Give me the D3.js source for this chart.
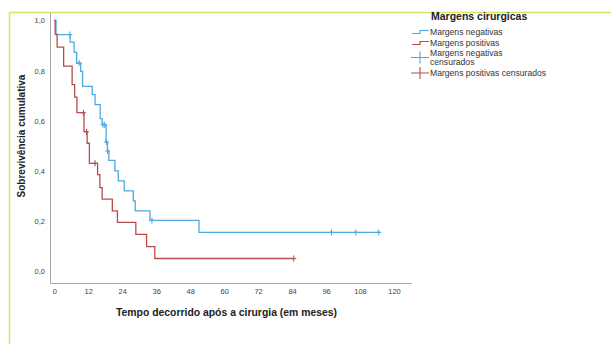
<!DOCTYPE html>
<html>
<head>
<meta charset="utf-8">
<script src="https://cdn.jsdelivr.net/npm/d3@7"></script>
<style>
  body { margin: 0; background: #fff; }
  svg { font-family: "Liberation Sans", Arial, sans-serif; }
</style>
</head>
<body>
<svg width="611" height="344"></svg>
<script>
// Kaplan-Meier steps (time in months, survival after the step)
var negTimes = [0, 0.6, 5.6, 7.0, 7.9, 9.3, 10.0, 13.4, 14.4, 16.2, 16.9, 18.3, 18.8, 19.3, 21.4, 22.6, 24.7, 27.9, 28.6, 33.8, 51.1, 114.6];
var negSurv  = [1.0, 0.944, 0.914, 0.873, 0.83, 0.797, 0.737, 0.704, 0.664, 0.608, 0.584, 0.515, 0.479, 0.442, 0.40, 0.36, 0.32, 0.28, 0.24, 0.202, 0.154, 0.154];
var negCensT = [5.5, 8.8, 17.2, 17.8, 18.4, 18.8, 34.5, 97.9, 106.5, 114.6];
var negCensS = [0.944, 0.83, 0.584, 0.584, 0.515, 0.479, 0.202, 0.154, 0.154, 0.154];

var posTimes = [0, 0.3, 1.0, 3.3, 6.3, 7.2, 8.0, 10.5, 11.6, 12.4, 15.3, 16.1, 16.9, 20.5, 22.3, 28.8, 32.6, 35.5, 84.6];
var posSurv  = [1.0, 0.946, 0.894, 0.818, 0.744, 0.694, 0.632, 0.556, 0.51, 0.43, 0.385, 0.333, 0.287, 0.24, 0.194, 0.146, 0.097, 0.05, 0.05];
var posCensT = [10.3, 11.4, 14.4, 84.6];
var posCensS = [0.632, 0.556, 0.43, 0.05];

var xTicks = [0, 12, 24, 36, 48, 60, 72, 84, 96, 108, 120];
var yTicks = [0, 0.2, 0.4, 0.6, 0.8, 1.0];

var legendLabels = [["Margens negativas"], ["Margens positivas"], ["Margens negativas", "censurados"], ["Margens positivas censurados"]];

var blue = "#4fa9e0", red = "#b84c4c";

var svg = d3.select("svg");

// frame lines of the output viewer
svg.append("line").attr("x1", 9.5).attr("x2", 611).attr("y1", 12.5).attr("y2", 12.5)
   .attr("stroke", "#d6e46a").attr("stroke-width", 1.5);
svg.append("line").attr("x1", 9.5).attr("x2", 9.5).attr("y1", 12.5).attr("y2", 344)
   .attr("stroke", "#d6e46a").attr("stroke-width", 1.5);

var x = d3.scaleLinear().domain([0, 120]).range([54.3, 394]);
var y = d3.scaleLinear().domain([0, 1]).range([271, 20.5]);

// axis lines
svg.append("line").attr("x1", 50.5).attr("x2", 50.5).attr("y1", 13).attr("y2", 283.5)
   .attr("stroke", "#a8a8a8");
svg.append("line").attr("x1", 50.5).attr("x2", 412).attr("y1", 283.5).attr("y2", 283.5)
   .attr("stroke", "#a8a8a8");

var fmt = function (d) { return d3.format(".1f")(d).replace(".", ","); };

var gx = svg.append("g").attr("transform", "translate(0,284)")
    .call(d3.axisBottom(x).tickValues(xTicks).tickSize(0).tickPadding(5));
gx.select(".domain").remove();
gx.selectAll("text").attr("font-size", "7.5px").attr("fill", "#444").attr("font-family", "Liberation Sans, Arial");

var gy = svg.append("g").attr("transform", "translate(50,0)")
    .call(d3.axisLeft(y).tickValues(yTicks).tickFormat(fmt).tickSize(0).tickPadding(5));
gy.select(".domain").remove();
gy.selectAll("text").attr("font-size", "7.5px").attr("fill", "#444").attr("font-family", "Liberation Sans, Arial");

// titles
svg.append("text").attr("x", 226.5).attr("y", 316).attr("text-anchor", "middle")
   .attr("font-size", "10.4px").attr("font-weight", "bold").attr("fill", "#222")
   .text("Tempo decorrido após a cirurgia (em meses)");
svg.append("text").attr("transform", "translate(25,136) rotate(-90)").attr("text-anchor", "middle")
   .attr("font-size", "10px").attr("font-weight", "bold").attr("fill", "#222")
   .text("Sobrevivência cumulativa");

var line = d3.line()
    .x(function (d) { return x(d[0]); })
    .y(function (d) { return y(d[1]); })
    .curve(d3.curveStepAfter);

function drawCurve(times, surv, censT, censS, color) {
    svg.append("path")
       .datum(d3.zip(times, surv))
       .attr("fill", "none")
       .attr("stroke", color)
       .attr("stroke-width", 1.3)
       .attr("d", line);
    var pts = d3.zip(censT, censS);
    svg.selectAll(null).data(pts).enter().append("path")
       .attr("d", function (d) {
           var cx = x(d[0]), cy = y(d[1]);
           return "M" + (cx - 2.5) + "," + cy + "H" + (cx + 2.5) + "M" + cx + "," + (cy - 3) + "V" + (cy + 3);
       })
       .attr("stroke", color)
       .attr("stroke-width", 1.1);
}

drawCurve(negTimes, negSurv, negCensT, negCensS, blue);
drawCurve(posTimes, posSurv, posCensT, posCensS, red);

// legend
var lg = svg.append("g");
lg.append("text").attr("x", 431).attr("y", 20).attr("font-size", "10.5px")
  .attr("font-weight", "bold").attr("fill", "#222").text("Margens cirurgicas");

var rowsY = [32, 43, 57.5, 73];
var colors = [blue, red, blue, red];
legendLabels.forEach(function (lab, i) {
    var cy = rowsY[i];
    if (i < 2) {
        lg.append("path").attr("fill", "none").attr("stroke", colors[i]).attr("stroke-width", 1.2)
          .attr("d", "M412," + (cy + 1.5) + "H420V" + (cy - 1.5) + "H429");
    } else {
        lg.append("path").attr("stroke", colors[i]).attr("stroke-width", 1.1)
          .attr("d", "M411," + cy + "H429M420," + (cy - 6) + "V" + (cy + 6));
    }
    var t = lg.append("text").attr("x", 430).attr("font-size", "8.6px").attr("fill", "#333");
    if (lab.length === 1) {
        t.attr("y", cy + 3.2).text(lab[0]);
    } else {
        t.append("tspan").attr("x", 430).attr("y", cy - 1.3).text(lab[0]);
        t.append("tspan").attr("x", 430).attr("y", cy + 7.7).text(lab[1]);
    }
});
</script>
</body>
</html>
